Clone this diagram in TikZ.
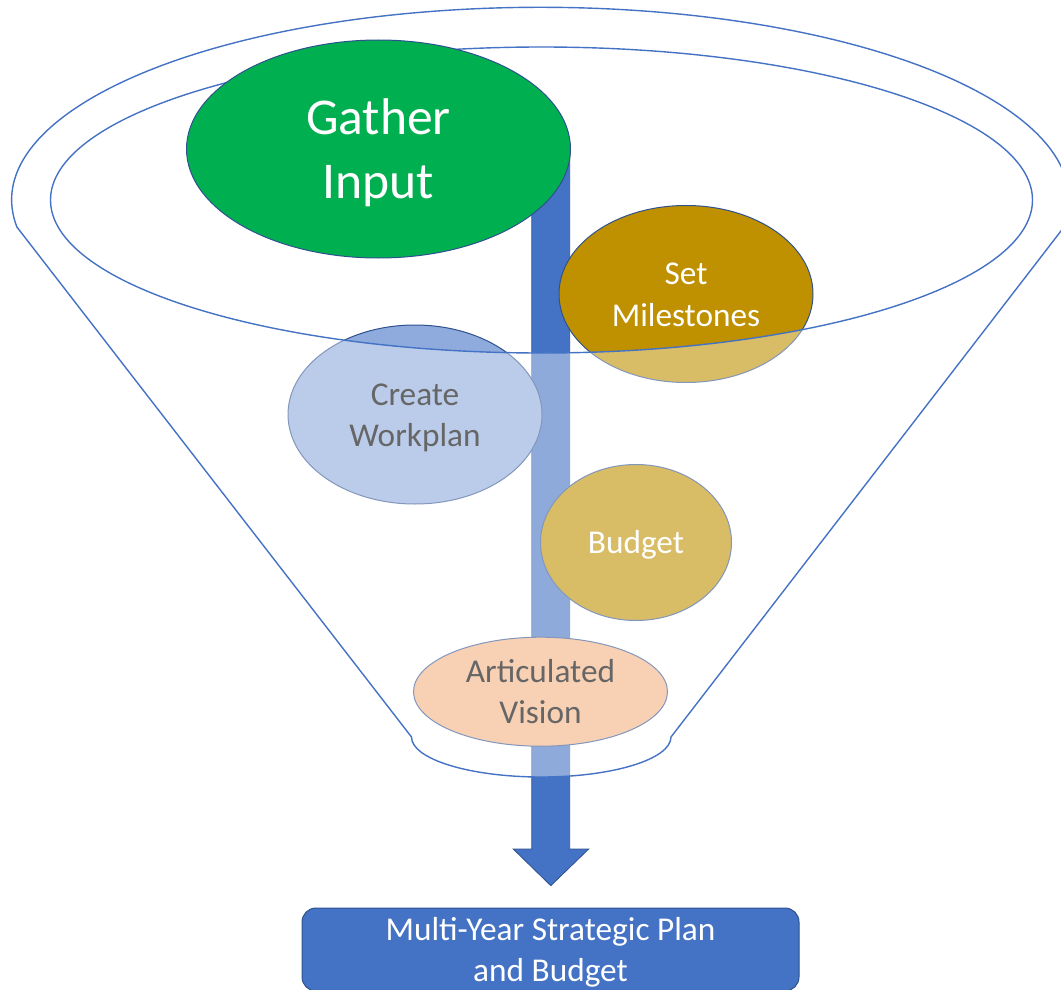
\documentclass[tikz,border=0pt]{standalone}
\usepackage{fontspec}
\setmainfont{Carlito}
\usetikzlibrary{shapes.geometric}
\definecolor{fblue}{HTML}{4472C4}
\definecolor{dblue}{HTML}{2F528F}
\definecolor{ggreen}{HTML}{00B050}
\definecolor{gold}{HTML}{BF9000}
\definecolor{lblue}{HTML}{8FAADC}
\definecolor{peach}{HTML}{F4B183}
% line strut with Calibri-like ascent/descent, so lines are centred as in the source
\newcommand\ppstrut{\rule[-0.269em]{0pt}{1.221em}}
\begin{document}
\begin{tikzpicture}[x=1pt,y=1pt,
  stage/.style={ellipse, draw=dblue, line width=1pt, inner sep=-14pt, align=center,
    font=\fontsize{33.3}{40.5}\selectfont},
  funnelline/.style={draw=fblue, line width=1.4pt},
  blockarrow/.style={fill=fblue, draw=dblue, line width=0.8pt},
  planbox/.style={rectangle, rounded corners=14pt, fill=fblue, draw=dblue, line width=1pt,
    text=white, align=center, inner sep=0pt, font=\fontsize{33.3}{40}\selectfont}]
\useasboundingbox (0,0) rectangle (1061,-990);
\clip (0,0) rectangle (1061,-990);
% block arrow (behind everything)
\draw[blockarrow] (531.8,-150) -- (531.8,-849) -- (513.2,-849) -- (550.8,-885.7)
  -- (588.7,-849) -- (569.7,-849) -- (569.7,-150) -- cycle;
% stages inside the funnel
\node[stage, fill=lblue, text=black, minimum width=254pt, minimum height=179pt] (work) at (415,-414.5) {\ppstrut Create\\\ppstrut Workplan};
\node[stage, fill=gold, text=white, minimum width=254pt, minimum height=177pt] (miles) at (686,-294) {\ppstrut Set\\\ppstrut Milestones};
\node[stage, fill=gold, text=white, minimum width=191pt, minimum height=156pt] (budget) at (636,-542.5) {\ppstrut Budget};
\node[stage, fill=peach, text=black, minimum width=254pt, minimum height=109pt] (vision) at (540.5,-691.7) {\ppstrut Articulated\\\ppstrut Vision};
% funnel body: translucent white veil + outline
\fill[white, fill opacity=0.4, even odd rule]
  (16.9,-227) arc[start angle=188.06, end angle=-8.06, x radius=528.8pt, y radius=192.7pt]
  -- (671,-737) arc[start angle=0, end angle=-180, x radius=129.75pt, y radius=40pt] -- cycle
  (541.5,-200) ellipse[x radius=491pt, y radius=153pt];
\draw[funnelline]
  (16.9,-227) arc[start angle=188.06, end angle=-8.06, x radius=528.8pt, y radius=192.7pt]
  -- (671,-737) arc[start angle=0, end angle=-180, x radius=129.75pt, y radius=40pt] -- cycle;
\draw[funnelline] (541.5,-200) ellipse[x radius=491pt, y radius=153pt];
% top stage
\node[stage, fill=ggreen, text=white, minimum width=384pt, minimum height=218pt,
  font=\fontsize{51.6}{63}\selectfont] (gather) at (378.5,-149) {\ppstrut Gather\\\ppstrut Input};
% result box
\node[planbox, minimum width=497pt, minimum height=83pt] (plan) at (550.5,-949.5) {\ppstrut Multi-Year Strategic Plan\\\ppstrut and Budget};
\end{tikzpicture}
\end{document}
